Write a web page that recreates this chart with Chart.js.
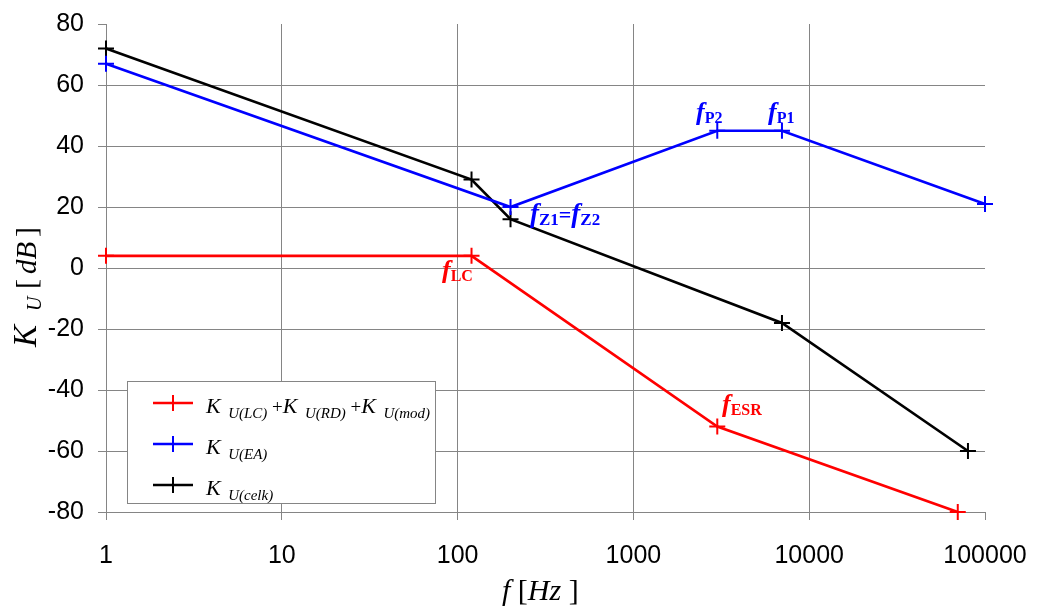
<!DOCTYPE html>
<html>
<head>
<meta charset="utf-8">
<script src="https://cdn.jsdelivr.net/npm/chart.js@4"></script>
<style>
  html, body { margin: 0; padding: 0; background: #fff; }
  #wrap { width: 1040px; height: 610px; position: relative; }
</style>
</head>
<body>
<div id="wrap"><canvas id="chart"></canvas></div>
<script>
// frequencies in Hz, gain in dB
const redFreq = [1, 120, 3000, 70000];
const redGain = [4, 4, -52, -80];
const blueFreq = [1, 200, 3000, 7000, 100000];
const blueGain = [67, 20, 45, 45, 21];
const blackFreq = [1, 120, 200, 7000, 80000];
const blackGain = [72, 29, 16, -18, -60];
const xTicks = [1, 10, 100, 1000, 10000, 100000];
const yTicks = [-80, -60, -40, -20, 0, 20, 40, 60, 80];

const RED = "#ff0000";
const BLUE = "#0000ff";
const BLACK = "#000000";
const GRID = "#858585";
const SERIF = "'Liberation Serif', 'DejaVu Serif', serif";
const SANS = "'Liberation Sans', Arial, sans-serif";

function pts(xs, ys) {
  return xs.map((x, i) => ({ x: x, y: ys[i] }));
}

function makeSet(label, xs, ys, color) {
  return {
    label: label,
    data: pts(xs, ys),
    borderColor: color,
    backgroundColor: color,
    borderWidth: 2.7,
    pointStyle: "cross",
    pointRadius: 8,
    pointBorderWidth: 2,
    pointHoverRadius: 8,
    tension: 0,
    clip: false
  };
}

// draw a run of [text, font, dy] pieces starting at x
function drawRuns(ctx, runs, x, y, color) {
  ctx.fillStyle = color;
  ctx.textBaseline = "alphabetic";
  ctx.textAlign = "left";
  runs.forEach(r => {
    ctx.font = r[1];
    ctx.fillText(r[0], x, y + (r[2] || 0));
    x += ctx.measureText(r[0]).width;
  });
}

function fLabel(sub) {
  return [
    ["f", "italic bold 26px " + SERIF, 0],
    [sub, "bold 16px " + SERIF, 3]
  ];
}

const annotations = {
  id: "annotations",
  afterDatasetsDraw(chart) {
    const ctx = chart.ctx;
    ctx.save();
    drawRuns(ctx, fLabel("LC"), 442, 278, RED);
    drawRuns(ctx, fLabel("ESR"), 722, 412, RED);
    drawRuns(ctx, fLabel("P2"), 696, 120, BLUE);
    drawRuns(ctx, fLabel("P1"), 768, 120, BLUE);
    drawRuns(ctx, [
      ["f", "italic bold 27px " + SERIF, 0],
      ["Z1", "bold 17px " + SERIF, 3],
      ["=", "bold 22px " + SERIF, 0],
      ["f", "italic bold 27px " + SERIF, 0],
      ["Z2", "bold 17px " + SERIF, 3]
    ], 530, 222, BLUE);

    // legend box
    ctx.strokeStyle = GRID;
    ctx.lineWidth = 1;
    ctx.fillStyle = "#fff";
    ctx.fillRect(127.5, 381.5, 308, 122);
    ctx.strokeRect(127.5, 381.5, 308, 122);
    const K = ["K", "italic 22px " + SERIF, 0];
    const sub = t => [t, "italic 15px " + SERIF, 5];
    const gap = ["  ", "15px " + SERIF, 0];
    const plus = [" +", "19px " + SERIF, 0];
    const rows = [
      { color: RED, y: 403, runs: [K, gap, sub("U(LC)"), plus, K, gap, sub("U(RD)"), plus, K, gap, sub("U(mod)")] },
      { color: BLUE, y: 444, runs: [K, gap, sub("U(EA)")] },
      { color: BLACK, y: 485, runs: [K, gap, sub("U(celk)")] }
    ];
    rows.forEach(r => {
      ctx.strokeStyle = r.color;
      ctx.lineWidth = 2.7;
      ctx.beginPath();
      ctx.moveTo(153, r.y);
      ctx.lineTo(193, r.y);
      ctx.stroke();
      ctx.lineWidth = 2;
      ctx.beginPath();
      ctx.moveTo(173, r.y - 8);
      ctx.lineTo(173, r.y + 8);
      ctx.stroke();
      drawRuns(ctx, r.runs, 206, r.y + 10, BLACK);
    });

    // axis titles
    drawRuns(ctx, [
      ["f", "italic 30px " + SERIF, 0],
      [" [", "30px " + SERIF, 0],
      ["Hz", "italic 30px " + SERIF, 0],
      [" ]", "30px " + SERIF, 0]
    ], 502, 600, BLACK);

    ctx.translate(36, 347);
    ctx.rotate(-Math.PI / 2);
    ctx.fillStyle = BLACK;
    ctx.textBaseline = "alphabetic";
    ctx.textAlign = "left";
    ctx.font = "italic 33px " + SERIF;
    ctx.fillText("K", 0, 0);
    ctx.font = "italic 20px " + SERIF;
    ctx.fillText("U", 36, 5);
    ctx.font = "30px " + SERIF;
    ctx.fillText("[", 58, 0);
    ctx.font = "italic 29px " + SERIF;
    ctx.fillText("dB", 73, 0);
    ctx.font = "30px " + SERIF;
    ctx.fillText("]", 110, 0);
    ctx.restore();
  }
};

new Chart(document.getElementById("chart"), {
  type: "line",
  data: {
    datasets: [
      makeSet("KU(LC)+KU(RD)+KU(mod)", redFreq, redGain, RED),
      makeSet("KU(EA)", blueFreq, blueGain, BLUE),
      makeSet("KU(celk)", blackFreq, blackGain, BLACK)
    ]
  },
  options: {
    responsive: true,
    maintainAspectRatio: false,
    animation: false,
    layout: { padding: { top: 24, right: 55, left: 0, bottom: 0 } },
    plugins: {
      legend: { display: false },
      tooltip: { enabled: false }
    },
    scales: {
      x: {
        type: "logarithmic",
        min: 1,
        max: 100000,
        afterBuildTicks: axis => { axis.ticks = xTicks.map(v => ({ value: v })); },
        afterFit: axis => {
          axis.height = 98;
          axis.paddingRight = 0;
        },
        grid: {
          color: c => (c.tick && c.tick.value === 100000 ? "rgba(0,0,0,0)" : GRID),
          tickColor: GRID,
          lineWidth: 1,
          tickLength: 8
        },
        border: { color: GRID },
        ticks: {
          color: "#000",
          font: { family: SANS, size: 25 },
          padding: 21,
          maxRotation: 0,
          autoSkip: false,
          callback: v => String(v)
        }
      },
      y: {
        min: -80,
        max: 80,
        afterBuildTicks: axis => { axis.ticks = yTicks.map(v => ({ value: v })); },
        afterFit: axis => {
          axis.width = 106;
          axis.paddingTop = 0;
          axis.paddingBottom = 0;
        },
        grid: {
          color: c => (c.tick && c.tick.value === 80 ? "rgba(0,0,0,0)" : GRID),
          tickColor: GRID,
          lineWidth: 1,
          tickLength: 8
        },
        border: { color: GRID },
        ticks: {
          color: "#000",
          font: { family: SANS, size: 25 },
          padding: 14
        }
      }
    }
  },
  plugins: [annotations]
});
</script>
</body>
</html>
